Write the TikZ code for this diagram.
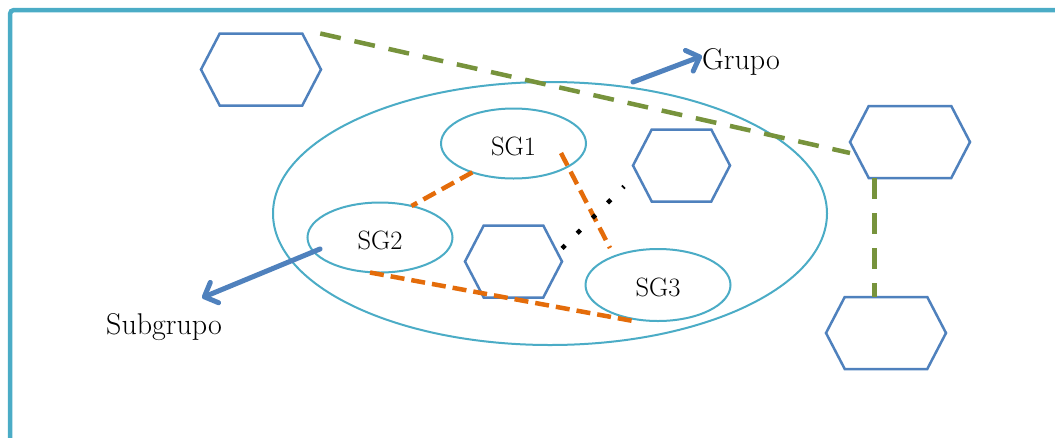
\documentclass[tikz,border=0pt]{standalone}
\usepackage{fontspec}
\usetikzlibrary{shapes.geometric,shapes.symbols,arrows.meta}
\definecolor{framecyan}{HTML}{4BACC6}
\definecolor{hexblue}{HTML}{4F81BD}
\definecolor{grpgreen}{HTML}{77933C}
\definecolor{sgorange}{HTML}{E46C0A}
\begin{document}
\begin{tikzpicture}[x=1pt,y=-1pt,
    hexa/.style={signal,signal to=east and west,signal pointer angle=125,draw=hexblue,line width=2.5pt,fill=white,
      minimum width=120pt,minimum height=72pt,inner sep=0pt,outer sep=0pt},
    ell/.style={ellipse,draw=framecyan,line width=2pt,fill=white,inner sep=0pt,outer sep=0pt},
    sg/.style={ell,minimum width=145pt,minimum height=70pt,text height=24pt,font=\fontsize{26.5}{30}\selectfont},
    lbl/.style={inner sep=0pt,font=\fontsize{30}{34}\selectfont},
    gdash/.style={grpgreen,line width=4.5pt,dash pattern=on 21pt off 14pt},
    odash/.style={sgorange,line width=4.5pt,dash pattern=on 14pt off 7pt},
    dots/.style={black,line width=4.5pt,dash pattern=on 4.5pt off 17pt},
    barrow/.style={hexblue,line width=5pt,line cap=round,-{Straight Barb[length=11pt,width=22pt,round]}}]
    \useasboundingbox (0,0) rectangle (1055,437);
    \clip (0,0) rectangle (1055,437);
    \draw[framecyan,line width=4.5pt,rounded corners=4pt] (10,10) rectangle (1080,460);
    \node[ell,minimum width=554pt,minimum height=263pt] (gr) at (550,213.5) {};
    \node[hexa] (h1) at (261,69.5) {};
    \node[hexa] (h2) at (910,142) {};
    \node[hexa] (h3) at (886,333) {};
    \node[hexa,minimum width=97pt] (h4) at (681.5,165.5) {};
    \node[hexa,minimum width=97pt] (h5) at (513.5,261.5) {};
    \draw[gdash] ([xshift=18pt]h1.north east) -- ([yshift=-11pt]h2.west);
    \draw[gdash] ([xshift=6pt]h2.south west) -- ([xshift=30pt]h3.north west);
    \node[sg] (sg1) at (513.5,143.5) {SG1};
    \node[sg] (sg2) at (380,237.5) {SG2};
    \node[sg,minimum height=72pt] (sg3) at (658,285) {SG3};
    \draw[odash] (sg1.215) -- (sg2.45);
    \draw[odash] ([shift={(47.5,9.5)}]sg1.center) -- ([shift={(-48,-37)}]sg3.center);
    \draw[odash] ([xshift=-10pt]sg2.south) -- ([xshift=-25pt]sg3.south);
    \draw[dots] ([yshift=13pt]h5.east) -- ([shift={(-9,21)}]h4.west);
    \node[lbl] (tgrupo) at (741,62) {Grupo};
    \node[lbl] (tsub) at (164,327.5) {Subgrupo};
    \draw[barrow] ([shift={(83,-131.5)}]gr.center) -- ([yshift=6pt]tgrupo.west);
    \draw[barrow] ([shift={(-60,11.5)}]sg2.center) -- ([shift={(38,-16)}]tsub.north);
\end{tikzpicture}
\end{document}
